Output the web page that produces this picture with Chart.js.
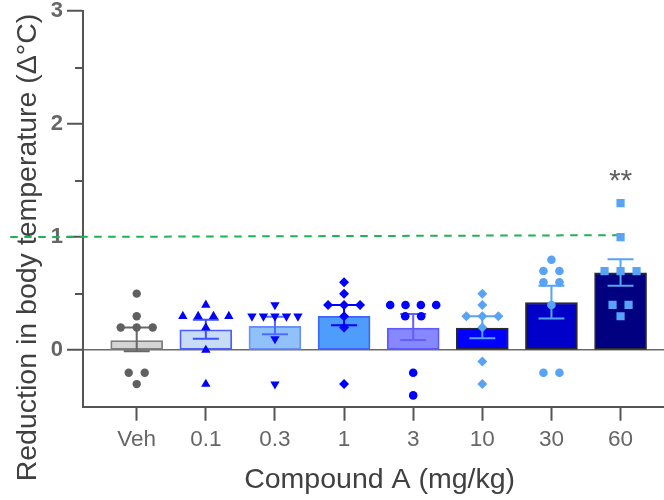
<!DOCTYPE html>
<html><head><meta charset="utf-8">
<script src="https://cdn.jsdelivr.net/npm/chart.js@4.4.1/dist/chart.umd.min.js"></script>
<style>html,body{margin:0;padding:0;overflow:hidden;background:#fff}#wrap{width:682px;height:500px}</style>
</head><body><div id="wrap"><canvas id="c" width="682" height="500"></canvas></div>
<script>
// ---- data ----
const categories = ['Veh', '0.1', '0.3', '1', '3', '10', '30', '60'];
const barMeans = [0.085, 0.18, 0.21, 0.30, 0.195, 0.195, 0.42, 0.685];
const errHigh = [0.20, 0.27, 0.295, 0.40, 0.32, 0.30, 0.57, 0.805];
const errLow = [-0.01, 0.10, 0.14, 0.22, 0.09, 0.105, 0.28, 0.57];
const ptsVeh = [0.5, 0.3, 0.2, 0.2, 0.2, -0.2, -0.2, -0.3];
const pts01 = [0.4, 0.3, 0.3, 0.3, 0.3, 0.2, 0.0, -0.3];
const pts03 = [0.4, 0.3, 0.3, 0.3, 0.3, 0.3, 0.1, -0.3];
const pts1 = [0.6, 0.5, 0.4, 0.4, 0.4, 0.3, 0.2, -0.3];
const pts3 = [0.4, 0.4, 0.4, 0.4, 0.3, 0.3, -0.2, -0.4];
const pts10 = [0.5, 0.4, 0.3, 0.3, 0.3, 0.2, -0.1, -0.3];
const pts30 = [0.8, 0.7, 0.7, 0.6, 0.6, 0.4, -0.2, -0.2];
const pts60 = [1.3, 1.0, 0.7, 0.7, 0.7, 0.4, 0.4, 0.3];
const yTicksMajor = [0, 1, 2, 3];
const yTicksMinor = [0.5, 1.5, 2.5];
const thresholdX = [-1.83, 7.0];
const thresholdY = [1.0, 1.017];
const significance = ['', '', '', '', '', '', '', '**'];

// ---- styles ----
const barFill = ['#d4d4d4', '#c7dcf6', '#90c1fa', '#4e9cfb', '#8787ff', '#0000ff', '#0000c8', '#000080'];
const barBorder = ['#7f7f7f', '#4b5dff', '#6a8ffc', '#3c64ff', '#5a5aff', '#2a2a2a', '#2a2a2a', '#2a2a2a'];
const ptColor = ['#606060', '#0000ff', '#0000ff', '#0000ff', '#0000ff', '#58a3f5', '#58a3f5', '#58a3f5'];
const errColor = ['#666666', '#3d50ff', '#4d6cff', '#0000ff', '#6060ff', '#58a3f5', '#58a3f5', '#58a3f5'];
const ptStyle = ['circle', 'triangle', 'triangle', 'rectRot', 'circle', 'rectRot', 'circle', 'rect'];
const ptRot = [0, 0, 180, 0, 0, 0, 0, 0];
const ptRad = [4.2, 5.4, 5.4, 5, 4.3, 5, 4.3, 5.8];
const FONT = '"Liberation Sans", Arial, Helvetica, sans-serif';
const PX_PER_CAT = 69.1;

const groups = [ptsVeh, pts01, pts03, pts1, pts3, pts10, pts30, pts60];

function swarm(values, idx) {
  const counts = {}; values.forEach(v => counts[v] = (counts[v] || 0) + 1);
  const seen = {};
  return values.map(v => {
    const n = counts[v];
    const k = seen[v] = (seen[v] === undefined ? 0 : seen[v] + 1);
    const sp = n > 1 ? Math.min(16, 46 / (n - 1)) : 0;
    return { x: idx + (k - (n - 1) / 2) * sp / PX_PER_CAT, y: v };
  });
}

const datasets = [{
  type: 'bar',
  data: barMeans.map((v, i) => ({ x: i, y: v })),
  backgroundColor: barFill,
  borderColor: barBorder,
  borderWidth: 1.8,
  borderSkipped: false,
  barThickness: 52,
  order: 3
}, {
  type: 'line',
  data: thresholdX.map((x, i) => ({ x: x, y: thresholdY[i] })),
  borderColor: '#1db34f',
  borderWidth: 2,
  borderDash: [7.5, 6.5],
  pointRadius: 0,
  clip: false,
  order: 2
}];
groups.forEach((g, i) => {
  datasets.push({
    type: 'scatter',
    data: swarm(g, i),
    pointStyle: ptStyle[i],
    rotation: ptRot[i],
    pointRadius: ptRad[i],
    backgroundColor: ptColor[i],
    borderColor: ptColor[i],
    borderWidth: 0,
    order: 1
  });
});

const extras = {
  id: 'extras',
  afterDatasetDraw(chart, args) {
    if (args.index !== 0) return;
    const ctx = chart.ctx, xs = chart.scales.x, ys = chart.scales.y;
    ctx.save();
    ctx.lineWidth = 2;
    barMeans.forEach((m, i) => {
      const x = xs.getPixelForValue(i);
      const yh = ys.getPixelForValue(errHigh[i]);
      const yl = ys.getPixelForValue(errLow[i]);
      ctx.strokeStyle = errColor[i];
      ctx.beginPath();
      ctx.moveTo(x, yh); ctx.lineTo(x, yl);
      ctx.moveTo(x - 13, yh); ctx.lineTo(x + 13, yh);
      ctx.moveTo(x - 13, yl); ctx.lineTo(x + 13, yl);
      ctx.stroke();
    });
    ctx.restore();
  },
  afterDraw(chart) {
    const ctx = chart.ctx, xs = chart.scales.x, ys = chart.scales.y, ca = chart.chartArea;
    ctx.save();
    ctx.strokeStyle = '#555'; ctx.lineWidth = 2;
    yTicksMinor.forEach(v => {
      const y = Math.round(ys.getPixelForValue(v));
      ctx.beginPath(); ctx.moveTo(ca.left - 8, y); ctx.lineTo(ca.left, y); ctx.stroke();
    });
    ctx.fillStyle = '#5f5f5f';
    ctx.font = '30px ' + FONT;
    ctx.textAlign = 'center'; ctx.textBaseline = 'alphabetic';
    significance.forEach((s, i) => {
      if (!s) return;
      const top = Math.max(...groups[i], errHigh[i]);
      ctx.fillText(s, xs.getPixelForValue(i), ys.getPixelForValue(top) - 13);
    });
    ctx.translate(36, 247.5);
    ctx.rotate(-Math.PI / 2);
    ctx.fillStyle = '#404040';
    ctx.font = '28.5px ' + FONT;
    ctx.textAlign = 'center'; ctx.textBaseline = 'alphabetic';
    ctx.fillText('Reduction in body temperature (\u0394\u00b0C)', 0, 0);
    ctx.restore();
  }
};

new Chart(document.getElementById('c'), {
  type: 'bar',
  data: { datasets },
  plugins: [extras],
  options: {
    responsive: false,
    animation: false,
    devicePixelRatio: 1,
    layout: { padding: { top: 11, right: 0, bottom: 0, left: 0 } },
    plugins: { legend: { display: false }, tooltip: { enabled: false } },
    scales: {
      x: {
        type: 'linear',
        offset: false,
        min: -0.777,
        max: 7.805,
        afterBuildTicks: s => { s.ticks = categories.map((c, i) => ({ value: i })); },
        afterFit: s => { s.height = 93.3; s.paddingRight = 0; s.paddingLeft = 0; },
        ticks: {
          autoSkip: false, maxRotation: 0, padding: 6,
          color: '#666', font: { family: FONT, size: 22.5 },
          callback: v => categories[Math.round(v)]
        },
        grid: { offset: false, drawOnChartArea: false, tickLength: 14, tickColor: '#555', tickWidth: 2 },
        border: { display: true, color: '#555', width: 2 },
        title: {
          display: true, text: 'Compound A (mg/kg)', color: '#404040',
          font: { family: FONT, size: 28.5 }, padding: { top: 0, bottom: 2.6 }
        }
      },
      y: {
        type: 'linear',
        min: -0.5,
        max: 3,
        afterBuildTicks: s => { s.ticks = yTicksMajor.map(v => ({ value: v })); },
        afterFit: s => { s.width = 83; },
        ticks: {
          padding: 4, color: '#666',
          font: { family: FONT, size: 22, weight: 'bold', lineHeight: 0.6 },
          callback: v => String(v)
        },
        grid: {
          tickLength: 16, tickColor: '#555', tickWidth: 2, lineWidth: 1.5,
          color: c => (c.tick && c.tick.value === 0) ? '#6a6a6a' : 'rgba(0,0,0,0)'
        },
        border: { display: true, color: '#555', width: 2 }
      }
    }
  }
});
</script>
</body></html>
